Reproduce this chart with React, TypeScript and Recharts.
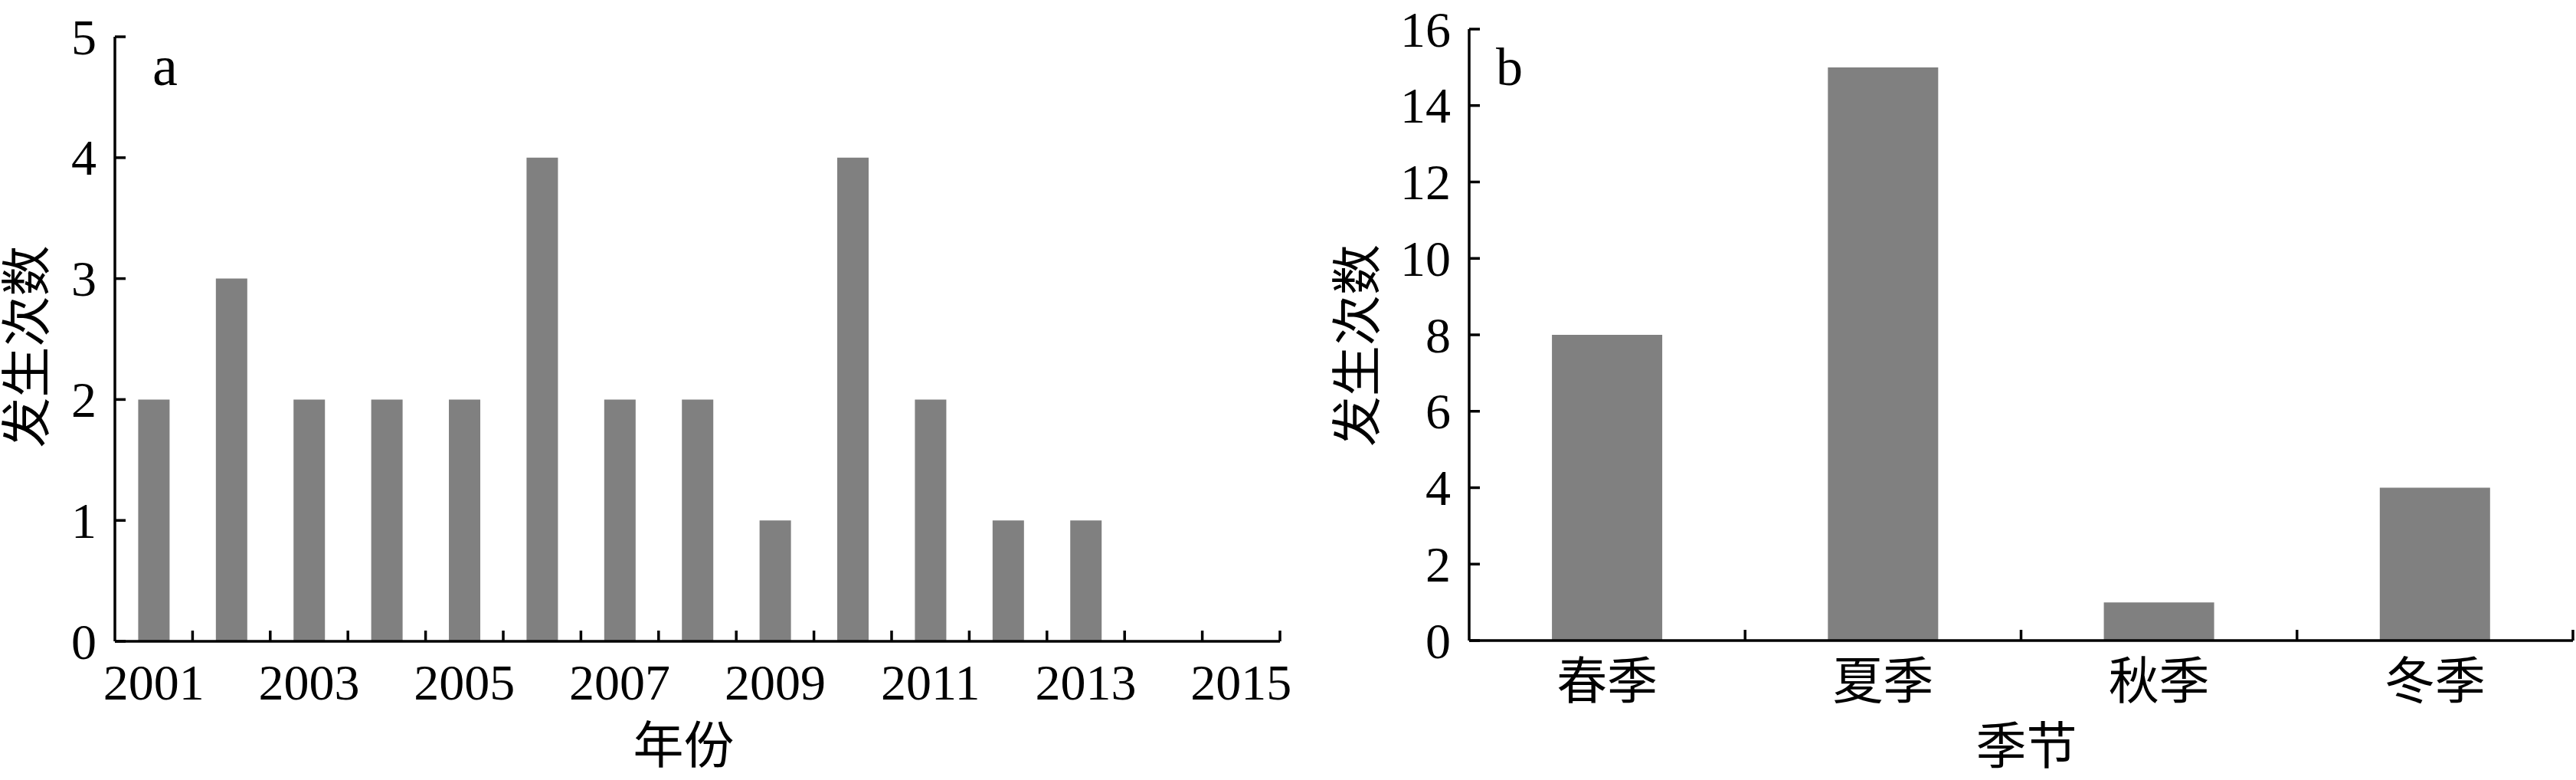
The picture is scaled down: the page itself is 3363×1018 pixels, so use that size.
import { BarChart, Bar, XAxis, YAxis } from 'recharts';

// panel a: events per year
const years = ['2001', '2002', '2003', '2004', '2005', '2006', '2007', '2008', '2009', '2010', '2011', '2012', '2013', '2014', '2015'];
const yearCounts = [2, 3, 2, 2, 2, 4, 2, 2, 1, 4, 2, 1, 1, 0, 0];
const yearTicks = [0, 1, 2, 3, 4, 5];

// panel b: events per season
const seasons = ['春季', '夏季', '秋季', '冬季'];
const seasonCounts = [8, 15, 1, 4];
const seasonTicks = [0, 2, 4, 6, 8, 10, 12, 14, 16];

const yearData = years.map((year, i) => ({ year, count: yearCounts[i] }));
const seasonData = seasons.map((season, i) => ({ season, count: seasonCounts[i] }));

const FONT = "'Liberation Serif', 'Noto Sans CJK SC', serif";
const FONT_SIZE = 66;
const TICK_LEN = 14;
const AXIS_W = 3.5;
const BAR_FILL = '#808080';

const A = { width: 1700, height: 1018, left: 150, top: 48, right: 29, bottom: 181 };
const B = { offsetX: 1700, width: 1663, height: 1018, left: 218, top: 38, right: 4, bottom: 182 };

const textStyle = { fontFamily: FONT, fontSize: FONT_SIZE, fill: '#000' };

// y ticks point inward, label sits left of the axis
const YTick = ({ x, y, payload }: any) => (
    <g>
        <line x1={x} x2={x + TICK_LEN} y1={y} y2={y} stroke="#000" strokeWidth={AXIS_W} />
        <text x={x - 24} y={y} textAnchor="end" dominantBaseline="central" style={textStyle}>
            {payload.value}
        </text>
    </g>
);

// x ticks sit on category boundaries (right edge of each band), pointing up
const makeXTick = (step: number, labels: string[], every: number) => ({ x, y, payload }: any) => {
    const idx = labels.indexOf(String(payload.value));
    return (
        <g>
            <line x1={x + step / 2} x2={x + step / 2} y1={y} y2={y - TICK_LEN} stroke="#000" strokeWidth={AXIS_W} />
            {idx % every === 0 && (
                <text x={x} y={y + 53} textAnchor="middle" dominantBaseline="central" style={textStyle}>
                    {payload.value}
                </text>
            )}
        </g>
    );
};

const yTitle = (dx: number, dy: number) => (props: any) => {
    const vb = props.viewBox || { x: 0, y: 0, width: 0, height: 0 };
    const cx = vb.x + dx;
    const cy = vb.y + vb.height / 2 + dy;
    return (
        <text x={cx} y={cy} textAnchor="middle" dominantBaseline="central" transform={`rotate(-90 ${cx} ${cy})`} style={textStyle}>
            发生次数
        </text>
    );
};

const xTitle = (text: string, dx: number, dy: number) => (props: any) => {
    const vb = props.viewBox || { x: 0, y: 0, width: 0, height: 0 };
    return (
        <text x={vb.x + vb.width / 2 + dx} y={vb.y + dy} textAnchor="middle" dominantBaseline="central" style={textStyle}>
            {text}
        </text>
    );
};

export default function App() {
    const stepA = (A.width - A.left - A.right) / years.length;
    const stepB = (B.width - B.left - B.right) / seasons.length;

    return (
        <div style={{ position: 'absolute', left: 0, top: 0, width: 3363, height: 1018, background: '#fff' }}>
            <div style={{ position: 'absolute', left: 0, top: 0 }}>
                <BarChart width={A.width} height={A.height} data={yearData} barCategoryGap="30%"
                    margin={{ top: A.top, right: A.right, left: 0, bottom: 0 }}>
                    <XAxis
                        dataKey="year"
                        height={A.bottom}
                        interval={0}
                        tickLine={false}
                        tickSize={0}
                        tickMargin={0}
                        axisLine={{ stroke: '#000', strokeWidth: AXIS_W }}
                        tick={makeXTick(stepA, years, 2)}
                        label={xTitle('年份', -18, 136)}
                    />
                    <YAxis
                        width={A.left}
                        domain={[0, 5]}
                        ticks={yearTicks}
                        interval={0}
                        tickLine={false}
                        tickSize={0}
                        tickMargin={0}
                        axisLine={{ stroke: '#000', strokeWidth: AXIS_W }}
                        tick={<YTick />}
                        label={yTitle(35, 10)}
                    />
                    <Bar dataKey="count" fill={BAR_FILL} isAnimationActive={false} />
                </BarChart>
            </div>
            <div style={{ position: 'absolute', left: B.offsetX, top: 0 }}>
                <BarChart width={B.width} height={B.height} data={seasonData} barCategoryGap="30%"
                    margin={{ top: B.top, right: B.right, left: 0, bottom: 0 }}>
                    <XAxis
                        dataKey="season"
                        height={B.bottom}
                        interval={0}
                        tickLine={false}
                        tickSize={0}
                        tickMargin={0}
                        axisLine={{ stroke: '#000', strokeWidth: AXIS_W }}
                        tick={makeXTick(stepB, seasons, 1)}
                        label={xTitle('季节', 7, 138)}
                    />
                    <YAxis
                        width={B.left}
                        domain={[0, 16]}
                        ticks={seasonTicks}
                        interval={0}
                        tickLine={false}
                        tickSize={0}
                        tickMargin={0}
                        axisLine={{ stroke: '#000', strokeWidth: AXIS_W }}
                        tick={<YTick />}
                        label={yTitle(72, 14)}
                    />
                    <Bar dataKey="count" fill={BAR_FILL} isAnimationActive={false} />
                </BarChart>
            </div>
            {/* panel letters */}
            <svg width={3363} height={1018} style={{ position: 'absolute', left: 0, top: 0, pointerEvents: 'none' }}>
                <text x={199} y={111} style={{ ...textStyle, fontSize: 74 }}>a</text>
                <text x={1953} y={111} style={{ ...textStyle, fontSize: 70 }}>b</text>
            </svg>
        </div>
    );
}
